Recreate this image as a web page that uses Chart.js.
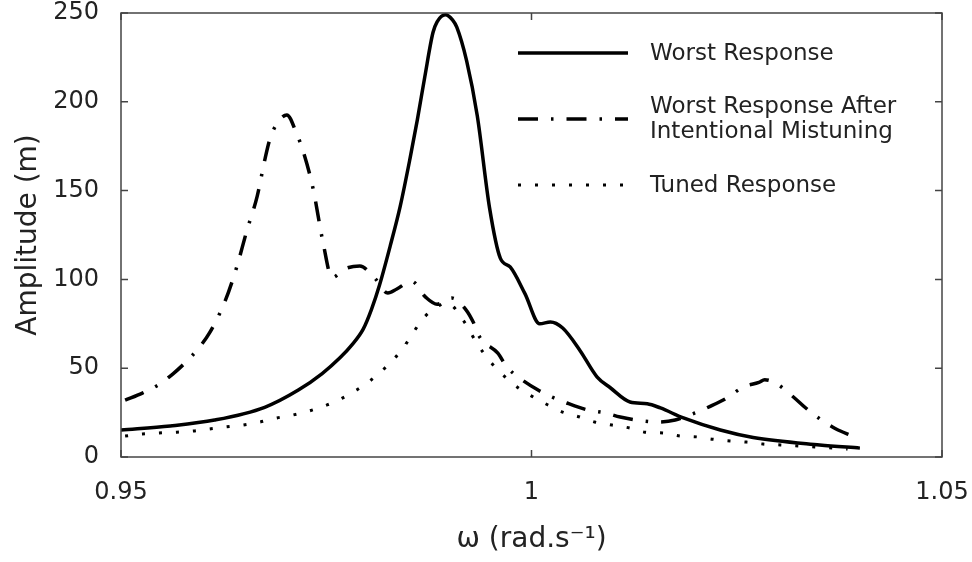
<!DOCTYPE html>
<html>
<head>
<meta charset="utf-8">
<script src="https://cdn.jsdelivr.net/npm/chart.js@4.4.1/dist/chart.umd.min.js"></script>
<style>
  html, body { margin: 0; padding: 0; background: #fff; }
  canvas { display: block; }
</style>
</head>
<body>
<canvas id="ampChart" width="972" height="562"></canvas>
<script>
// Axis ticks
const xTickValues = [0.95, 1, 1.05];
const xTickLabels = ["0.95", "1", "1.05"];
const yTickValues = [0, 50, 100, 150, 200, 250];

const seriesNames = ["Worst Response", "Worst Response After\nIntentional Mistuning", "Tuned Response"];

// Worst Response (solid)
const worstOmega = [0.9500, 0.9560, 0.9614, 0.9675, 0.9716, 0.9745, 0.9767, 0.9781, 0.9795, 0.9805,
  0.9815, 0.9828, 0.9840, 0.9852, 0.9861, 0.9870, 0.9880, 0.9885, 0.9895, 0.9904,
  0.9909, 0.9921, 0.9934, 0.9949, 0.9962, 0.9974, 0.9992, 1.0010, 1.0023, 1.0038,
  1.0059, 1.0080, 1.0096, 1.0120, 1.0141, 1.0157, 1.0185, 1.0230, 1.0270, 1.0351,
  1.0400];
const worstAmp = [15.2, 17.5, 20.8, 28, 37.7, 47, 56, 63, 72, 83,
  97, 119, 141, 168, 190, 214, 239, 245, 249, 246,
  242, 223, 192, 140, 112, 107, 92, 75, 76, 72.6,
  60, 45, 39, 31, 30, 27.6, 22, 15.2, 11, 6.8,
  5];

// Worst Response After Intentional Mistuning (dash-dot)
const mistunedOmega = [0.9505, 0.9526, 0.9545, 0.9563, 0.9578, 0.9594, 0.9608, 0.9627, 0.9641, 0.9653,
  0.9666, 0.9675, 0.9681, 0.9689, 0.9702, 0.9714, 0.9722, 0.9734, 0.9746, 0.9757,
  0.9773, 0.9791, 0.9809, 0.9825, 0.9836, 0.9854, 0.9871, 0.9885, 0.9903, 0.9920,
  0.9929, 0.9937, 0.9959, 0.9970, 0.9984, 1.0008, 1.0025, 1.0043, 1.0068, 1.0090,
  1.0108, 1.0136, 1.0154, 1.0175, 1.0199, 1.0217, 1.0236, 1.0258, 1.0277, 1.0284,
  1.0297, 1.0319, 1.0333, 1.0348, 1.0371, 1.0390];
const mistunedAmp = [32, 36, 40.5, 46.7, 53, 61, 70, 88, 107, 127,
  147, 167, 178.5, 187, 192.6, 182, 172, 151, 121, 101,
  106, 107.5, 100.8, 92.3, 94.6, 99, 90, 86, 89.5, 83,
  76, 67.5, 58.5, 50.7, 45, 37.7, 33.8, 30.4, 26.5, 24.8,
  22.5, 20.3, 19.7, 20.8, 24.8, 28.4, 32.7, 39.4, 42, 43.5,
  41.7, 33.8, 28, 22.5, 15.8, 12];

// Tuned Response (dotted)
const tunedOmega = [0.9505, 0.9526, 0.9545, 0.9568, 0.9588, 0.9608, 0.9629, 0.9649, 0.9669, 0.9690,
  0.9709, 0.9730, 0.9751, 0.9769, 0.9787, 0.9803, 0.9819, 0.9834, 0.9847, 0.9858,
  0.9870, 0.9885, 0.9896, 0.9904, 0.9919, 0.9929, 0.9941, 0.9953, 0.9968, 0.9984,
  1.0002, 1.0020, 1.0038, 1.0059, 1.0077, 1.0098, 1.0120, 1.0138, 1.0160, 1.0181,
  1.0202, 1.0221, 1.0242, 1.0262, 1.0282, 1.0303, 1.0385];
const tunedAmp = [11.8, 13, 13.5, 14, 14.6, 15.8, 17, 18, 19.7, 22,
  23.6, 26, 29.3, 33, 37.7, 42.8, 49, 56, 63.6, 71.5,
  79, 84.5, 87, 85, 75.5, 67.5, 59, 52, 45, 38.9,
  33.8, 29.3, 25.3, 22.5, 19.7, 18, 16.3, 14, 13.5, 11.8,
  11.3, 10, 9, 8.4, 7.3, 6.8, 4.5];

function toPoints(xs, ys) {
  return xs.map((x, i) => ({ x: x, y: ys[i] }));
}

// keep the plot box where the reference has it
function noPad(s) {
  s.paddingTop = 0;
  s.paddingBottom = 0;
  s.paddingLeft = 0;
  s.paddingRight = 0;
}

Chart.defaults.font.family = "'DejaVu Sans', sans-serif";
Chart.defaults.color = "#222";

// frame, inward ticks on all four sides, and the legend
const framePlugin = {
  id: "frame",
  afterDraw(chart) {
    const ctx = chart.ctx;
    const a = chart.chartArea;
    const xs = chart.scales.x;
    const ys = chart.scales.y;
    const tick = 7;
    ctx.save();
    ctx.strokeStyle = "#444";
    ctx.lineWidth = 1.5;
    ctx.strokeRect(a.left, a.top, a.right - a.left, a.bottom - a.top);
    ctx.beginPath();
    xTickValues.forEach((v) => {
      const px = xs.getPixelForValue(v);
      ctx.moveTo(px, a.bottom); ctx.lineTo(px, a.bottom - tick);
      ctx.moveTo(px, a.top); ctx.lineTo(px, a.top + tick);
    });
    yTickValues.forEach((v) => {
      const py = ys.getPixelForValue(v);
      ctx.moveTo(a.left, py); ctx.lineTo(a.left + tick, py);
      ctx.moveTo(a.right, py); ctx.lineTo(a.right - tick, py);
    });
    ctx.stroke();

    // legend
    const rowY = [53, 119, 185];
    const lineX0 = 518, lineX1 = 628, textX = 650;
    ctx.font = "23px 'DejaVu Sans', sans-serif";
    ctx.textBaseline = "middle";
    ctx.textAlign = "left";
    chart.data.datasets.forEach((ds, i) => {
      const y = rowY[i];
      ctx.strokeStyle = ds.borderColor;
      ctx.lineWidth = ds.borderWidth;
      ctx.setLineDash(ds.borderDash || []);
      ctx.beginPath();
      ctx.moveTo(lineX0, y);
      ctx.lineTo(lineX1, y);
      ctx.stroke();
      ctx.setLineDash([]);
      ctx.fillStyle = "#222";
      const lines = ds.label.split("\n");
      const lh = 25;
      const y0 = y + 1 - (lines.length - 1) * lh / 2;
      lines.forEach((t, k) => ctx.fillText(t, textX, y0 + k * lh));
    });
    ctx.restore();
  }
};

new Chart(document.getElementById("ampChart").getContext("2d"), {
  type: "line",
  data: {
    datasets: [
      { label: seriesNames[0], data: toPoints(worstOmega, worstAmp), borderColor: "#000", borderWidth: 3.5, borderDash: [], cubicInterpolationMode: "monotone" },
      { label: seriesNames[1], data: toPoints(mistunedOmega, mistunedAmp), borderColor: "#000", borderWidth: 3.5, borderDash: [20, 13, 2.5, 13], cubicInterpolationMode: "monotone" },
      { label: seriesNames[2], data: toPoints(tunedOmega, tunedAmp), borderColor: "#000", borderWidth: 3, borderDash: [3, 14], cubicInterpolationMode: "monotone" }
    ]
  },
  options: {
    responsive: false,
    animation: false,
    devicePixelRatio: 1,
    elements: { point: { radius: 0 } },
    layout: { padding: { left: 0, top: 13, right: 30, bottom: 0 }, autoPadding: false },
    plugins: { legend: { display: false }, tooltip: { enabled: false } },
    scales: {
      x: {
        type: "linear",
        min: 0.95,
        max: 1.05,
        afterBuildTicks: (s) => { s.ticks = xTickValues.map((v) => ({ value: v })); },
        afterFit: (s) => { s.height = 105; noPad(s); },
        ticks: {
          callback: (v, i) => xTickLabels[i],
          font: { size: 24 },
          padding: 13,
          maxRotation: 0,
          autoSkip: false
        },
        grid: { display: false },
        border: { display: false },
        title: { display: true, text: "ω (rad.s⁻¹)", font: { size: 28 }, padding: { top: 0, bottom: 5 } }
      },
      y: {
        min: 0,
        max: 250,
        afterBuildTicks: (s) => { s.ticks = yTickValues.map((v) => ({ value: v })); },
        afterFit: (s) => { s.width = 121; noPad(s); },
        ticks: { font: { size: 24 }, padding: 14 },
        grid: { display: false },
        border: { display: false },
        title: { display: true, text: "Amplitude (m)", font: { size: 28 }, padding: { top: 12, bottom: 0 } }
      }
    }
  },
  plugins: [framePlugin]
});
</script>
</body>
</html>
